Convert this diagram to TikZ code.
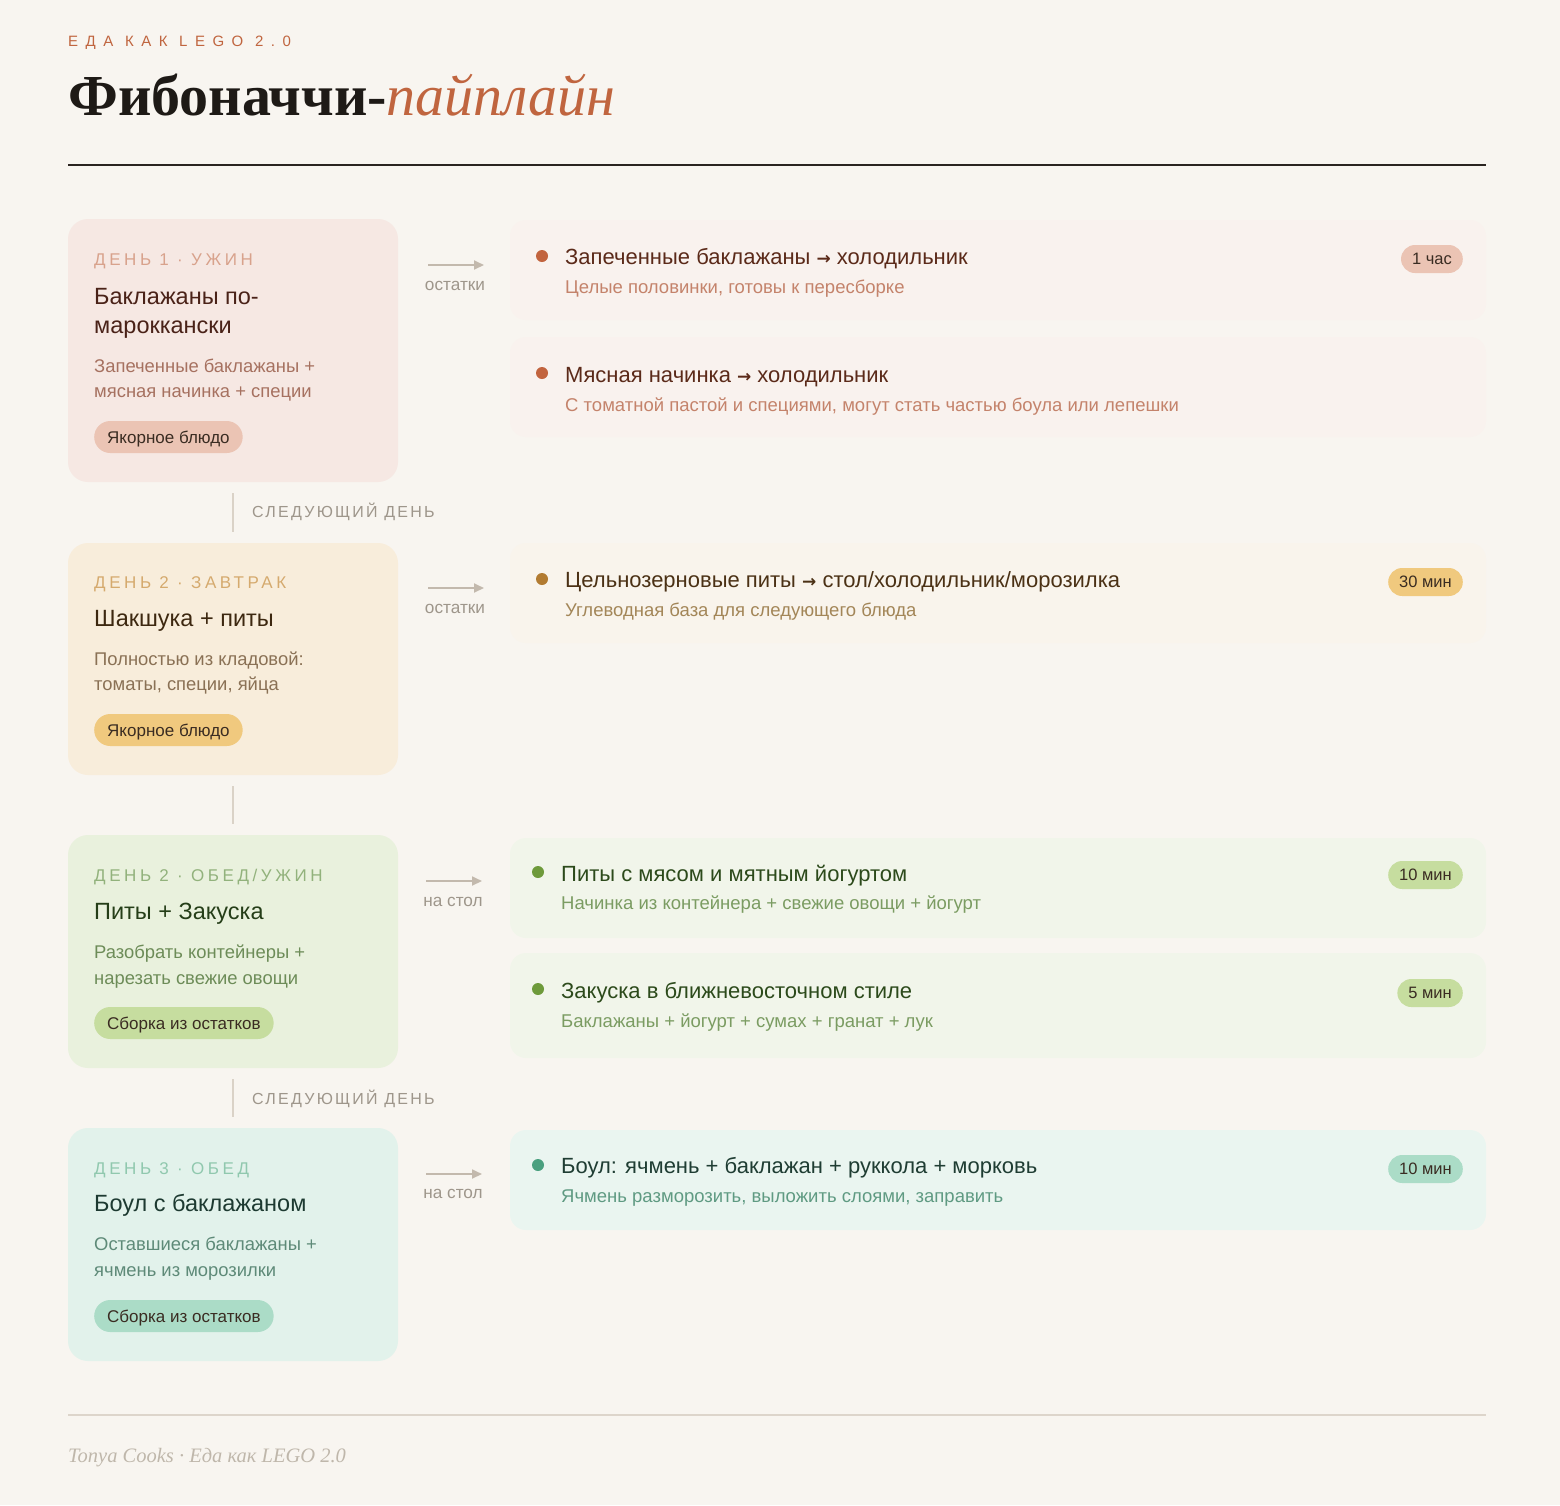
\documentclass[tikz,border=0pt]{standalone}
\usepackage{fontspec}
\setmainfont{Liberation Sans}
\newfontfamily\titleserif{Liberation Serif}
\newfontfamily\spaced[LetterSpace=21]{Liberation Sans}
\newfontfamily\nextfont[LetterSpace=14]{Liberation Sans}
\newfontfamily\kickerfont[LetterSpace=50]{Liberation Sans}
\newfontfamily\arrowfont{DejaVu Sans}
\newcommand{\toarrow}{{\arrowfont\bfseries\fontsize{17}{17}\selectfont →}}
\usetikzlibrary{positioning,arrows.meta}

\definecolor{page}{HTML}{F8F5F0}
\definecolor{ink}{HTML}{1E1A16}
\definecolor{terra}{HTML}{C0653F}
\definecolor{rulec}{HTML}{2A2420}
\definecolor{footrule}{HTML}{DDD5CB}
\definecolor{footgray}{HTML}{BFB7AB}
\definecolor{arrowgray}{HTML}{C3B9AD}
\definecolor{notegray}{HTML}{9E968B}
\definecolor{linkgray}{HTML}{DAD2C7}
\definecolor{pilltext}{HTML}{3A2C22}
% day 1
\definecolor{aFill}{HTML}{F6E8E3}
\definecolor{aKick}{HTML}{D8A28C}
\definecolor{aHead}{HTML}{4A2218}
\definecolor{aText}{HTML}{A67160}
\definecolor{aPill}{HTML}{EBC4B4}
\definecolor{aDot}{HTML}{C2643E}
\definecolor{aItem}{HTML}{5B2A19}
\definecolor{aSub}{HTML}{C4836B}
\definecolor{aPanel}{HTML}{F9F2EE}
% day 2 breakfast
\definecolor{bFill}{HTML}{F8EDDB}
\definecolor{bKick}{HTML}{D5AA6E}
\definecolor{bHead}{HTML}{3D2810}
\definecolor{bText}{HTML}{8A7155}
\definecolor{bPill}{HTML}{F0C97E}
\definecolor{bDot}{HTML}{B27B31}
\definecolor{bItem}{HTML}{4B3115}
\definecolor{bSub}{HTML}{A38658}
\definecolor{bPanel}{HTML}{F9F4EC}
% day 2 dinner
\definecolor{cFill}{HTML}{E9F1DD}
\definecolor{cKick}{HTML}{92B27C}
\definecolor{cHead}{HTML}{253E18}
\definecolor{cText}{HTML}{6D8C58}
\definecolor{cPill}{HTML}{C6DD9F}
\definecolor{cDot}{HTML}{6E9A3B}
\definecolor{cItem}{HTML}{2C4A1B}
\definecolor{cSub}{HTML}{7B9C62}
\definecolor{cPanel}{HTML}{F1F5EA}
% day 3
\definecolor{dFill}{HTML}{E2F2EB}
\definecolor{dKick}{HTML}{90C8AE}
\definecolor{dHead}{HTML}{1D3A31}
\definecolor{dText}{HTML}{5E8A78}
\definecolor{dPill}{HTML}{ABDCC7}
\definecolor{dDot}{HTML}{4AA07F}
\definecolor{dItem}{HTML}{1F3D33}
\definecolor{dSub}{HTML}{5F9A82}
\definecolor{dPanel}{HTML}{EAF5F0}

\begin{document}
\begin{tikzpicture}[x=1pt,y=-1pt,
  card/.style={rounded corners=20pt,minimum width=330pt,inner sep=0pt},
  panel/.style={rounded corners=16pt,minimum width=976pt,inner sep=0pt},
  kick/.style={anchor=base west,inner sep=0pt,font=\spaced\fontsize{17}{17}\selectfont},
  head/.style={anchor=base west,inner sep=0pt,font=\fontsize{23.5}{23.5}\selectfont},
  desc/.style={anchor=base west,inner sep=0pt,font=\fontsize{18.4}{18.4}\selectfont},
  pill/.style={anchor=west,rounded corners=16pt,minimum height=32pt,inner xsep=13pt,inner ysep=0pt,
    text height=12.2pt,text depth=0pt,text=pilltext,font=\fontsize{17}{17}\selectfont},
  badge/.style={anchor=east,rounded corners=14pt,minimum height=28pt,inner xsep=11pt,inner ysep=0pt,
    text height=11.8pt,text depth=0pt,text=pilltext,font=\fontsize{16.5}{16.5}\selectfont},
  dot/.style={circle,inner sep=0pt,minimum size=12pt},
  itemhead/.style={anchor=base west,inner sep=0pt,font=\fontsize{22}{22}\selectfont},
  itemsub/.style={anchor=base west,inner sep=0pt,font=\fontsize{18.5}{18.5}\selectfont},
  flow/.style={draw=arrowgray,line width=1.8pt,-{Triangle[length=10pt,width=9pt]}},
  note/.style={inner sep=0pt,text=notegray,font=\fontsize{17.2}{17.2}\selectfont},
  nextday/.style={anchor=base west,inner sep=0pt,text=notegray,font=\nextfont\fontsize{16}{16}\selectfont},
  link/.style={draw=linkgray,line width=2pt}]

\fill[page] (0,0) rectangle (1560,1505);
\useasboundingbox (0,0) rectangle (1560,1505);

% header
\node[anchor=base west,inner sep=0pt,text=terra,font=\kickerfont\fontsize{15}{15}\selectfont]
  (kicker) at (68,46) {ЕДА КАК LEGO 2.0};
\node[anchor=base west,inner sep=0pt,text=ink,font=\titleserif\fontsize{58}{58}\selectfont]
  (title) at (68,115) {\bfseries Фибоначчи-\textcolor{terra}{\mdseries\itshape пайплайн}};
\draw[rulec,line width=2pt] (68,165) -- (1486,165);

% day cards
\node[card,fill=aFill,minimum height=263pt] (c1) at (233,350.5) {};
\node[card,fill=bFill,minimum height=232pt] (c2) at (233,659) {};
\node[card,fill=cFill,minimum height=233pt] (c3) at (233,951.5) {};
\node[card,fill=dFill,minimum height=233pt] (c4) at (233,1244.5) {};

\node[kick,text=aKick] (k1) at (94,265) {ДЕНЬ 1 · УЖИН};
\node[head,text=aHead] (h1) at (94,304) {Баклажаны по-};
\node[head,text=aHead] (h1b) at (94,333) {мароккански};
\node[desc,text=aText] (d1) at (94,372) {Запеченные баклажаны +};
\node[desc,text=aText] (d1b) at (94,397) {мясная начинка + специи};
\node[pill,fill=aPill] (p1) at (94,437) {Якорное блюдо};

\node[kick,text=bKick] (k2) at (94,588) {ДЕНЬ 2 · ЗАВТРАК};
\node[head,text=bHead] (h2) at (94,626) {Шакшука + питы};
\node[desc,text=bText] (d2) at (94,665) {Полностью из кладовой:};
\node[desc,text=bText] (d2b) at (94,690) {томаты, специи, яйца};
\node[pill,fill=bPill] (p2) at (94,730) {Якорное блюдо};

\node[kick,text=cKick] (k3) at (94,881) {ДЕНЬ 2 · ОБЕД/УЖИН};
\node[head,text=cHead] (h3) at (94,919) {Питы + Закуска};
\node[desc,text=cText] (d3) at (94,958) {Разобрать контейнеры +};
\node[desc,text=cText] (d3b) at (94,984) {нарезать свежие овощи};
\node[pill,fill=cPill] (p3) at (94,1023) {Сборка из остатков};

\node[kick,text=dKick] (k4) at (94,1174) {ДЕНЬ 3 · ОБЕД};
\node[head,text=dHead] (h4) at (94,1211) {Боул с баклажаном};
\node[desc,text=dText] (d4) at (94,1250) {Оставшиеся баклажаны +};
\node[desc,text=dText] (d4b) at (94,1276) {ячмень из морозилки};
\node[pill,fill=dPill] (p4) at (94,1316) {Сборка из остатков};

% links between days
\draw[link] ([yshift=-11pt]c1.south) -- ([yshift=11pt]c2.north);
\draw[link] ([yshift=-11pt]c2.south) -- ([yshift=11pt]c3.north);
\draw[link] ([yshift=-11pt]c3.south) -- ([yshift=11pt]c4.north);
\node[nextday] (nd1) at (252,517) {СЛЕДУЮЩИЙ ДЕНЬ};
\node[nextday] (nd2) at (252,1104) {СЛЕДУЮЩИЙ ДЕНЬ};

% arrows to outputs
\coordinate (a1s) at (428,265); \coordinate (a1e) at (484,265);
\coordinate (a2s) at (428,588); \coordinate (a2e) at (484,588);
\coordinate (a3s) at (426,881); \coordinate (a3e) at (482,881);
\coordinate (a4s) at (426,1174); \coordinate (a4e) at (482,1174);
\draw[flow] (a1s) -- (a1e);
\draw[flow] (a2s) -- (a2e);
\draw[flow] (a3s) -- (a3e);
\draw[flow] (a4s) -- (a4e);
\node[note] (n1) at (455,286) {остатки};
\node[note] (n2) at (455,609) {остатки};
\node[note] (n3) at (453,902) {на стол};
\node[note] (n4) at (453,1194) {на стол};

% output panels
\node[panel,fill=aPanel,minimum height=100pt] (o1) at (998,270) {};
\node[panel,fill=aPanel,minimum height=100pt] (o2) at (998,387) {};
\node[panel,fill=bPanel,minimum height=100pt] (o3) at (998,593) {};
\node[panel,fill=cPanel,minimum height=100pt] (o4) at (998,888) {};
\node[panel,fill=cPanel,minimum height=105pt] (o5) at (998,1005.5) {};
\node[panel,fill=dPanel,minimum height=100pt] (o6) at (998,1180) {};

\node[dot,fill=aDot] (e1) at (542,256) {};
\node[itemhead,text=aItem] (t1) at (565,264) {Запеченные баклажаны \toarrow{} холодильник};
\node[itemsub,text=aSub] (s1) at (565,293) {Целые половинки, готовы к пересборке};
\node[badge,fill=aPill] (b1) at (1463,259) {1 час};

\node[dot,fill=aDot] (e2) at (542,373) {};
\node[itemhead,text=aItem] (t2) at (565,382) {Мясная начинка \toarrow{} холодильник};
\node[itemsub,text=aSub] (s2) at (565,411) {С томатной пастой и специями, могут стать частью боула или лепешки};

\node[dot,fill=bDot] (e3) at (542,579) {};
\node[itemhead,text=bItem] (t3) at (565,587) {Цельнозерновые питы \toarrow{} стол/холодильник/морозилка};
\node[itemsub,text=bSub] (s3) at (565,616) {Углеводная база для следующего блюда};
\node[badge,fill=bPill] (b3) at (1463,582) {30 мин};

\node[dot,fill=cDot] (e4) at (538,872) {};
\node[itemhead,text=cItem] (t4) at (561,881) {Питы с мясом и мятным йогуртом};
\node[itemsub,text=cSub] (s4) at (561,909) {Начинка из контейнера + свежие овощи + йогурт};
\node[badge,fill=cPill] (b4) at (1463,875) {10 мин};

\node[dot,fill=cDot] (e5) at (538,989) {};
\node[itemhead,text=cItem] (t5) at (561,998) {Закуска в ближневосточном стиле};
\node[itemsub,text=cSub] (s5) at (561,1027) {Баклажаны + йогурт + сумах + гранат + лук};
\node[badge,fill=cPill] (b5) at (1463,993) {5 мин};

\node[dot,fill=dDot] (e6) at (538,1165) {};
\node[itemhead,text=dItem] (t6) at (561,1173) {Боул: ячмень + баклажан + руккола + морковь};
\node[itemsub,text=dSub] (s6) at (561,1202) {Ячмень разморозить, выложить слоями, заправить};
\node[badge,fill=dPill] (b6) at (1463,1169) {10 мин};

% footer
\draw[footrule,line width=1.5pt] (68,1415) -- (1486,1415);
\node[anchor=base west,inner sep=0pt,text=footgray,font=\titleserif\itshape\fontsize{20.5}{20.5}\selectfont]
  (foot) at (68,1462) {Tonya Cooks · Еда как LEGO 2.0};
\end{tikzpicture}
\end{document}
